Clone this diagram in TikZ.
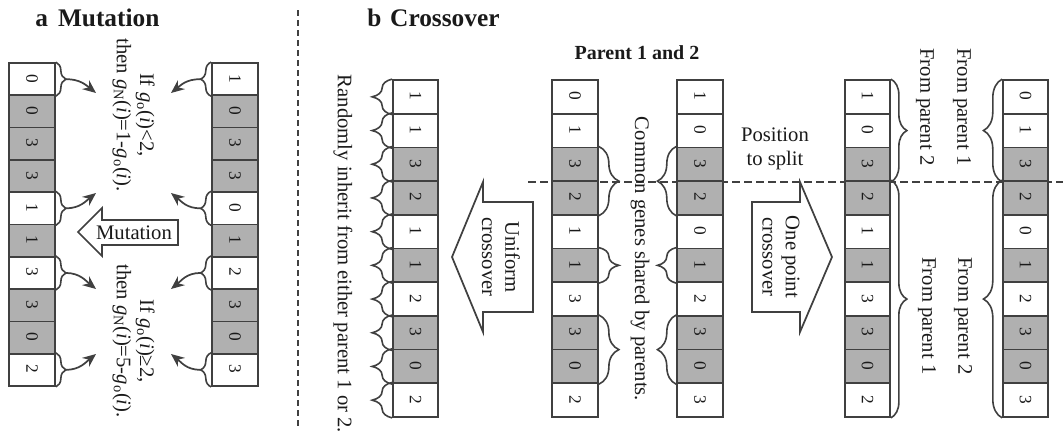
\documentclass[tikz,border=0pt]{standalone}
\usepackage{fontspec}
\usepackage{graphicx}
\setmainfont{Liberation Serif}
\usetikzlibrary{calc,arrows.meta,decorations.pathreplacing}

\definecolor{ink}{HTML}{1A1A1A}
\definecolor{edge}{HTML}{404040}
\definecolor{shade}{HTML}{B0B0B0}
\colorlet{c0}{white}
\colorlet{c1}{shade}

\tikzset{
  every node/.style={text=ink},
  gene/.style={draw=edge, line width=1.3pt, inner sep=0pt, font=\fontsize{13}{14}\selectfont},
  lbl/.style={font=\fontsize{15.5}{17.5}\selectfont, align=center, inner sep=0pt},
  vlbl/.style={lbl, rotate=-90},
  paneltitle/.style={font=\fontsize{19}{21}\selectfont\bfseries, anchor=base west, inner sep=0pt},
  curly/.style={draw=edge, line width=1.2pt, decorate, decoration={brace, amplitude=#1}},
  curly/.default=15pt,
  pointer/.style={draw=edge, line width=1.3pt, -{Stealth[length=10pt,width=8.5pt]}},
  blockarrow/.style={draw=edge, line width=1.3pt, fill=white, line join=miter},
  divider/.style={draw=edge, line width=1.5pt, dash pattern=on 4.5pt off 3pt},
  splitline/.style={draw=edge, line width=1pt, dash pattern=on 6pt off 3pt},
}

% one chromosome: name, centre x, top y, cell height, cell width, value/shade list
\newcommand\genecolumn[6]{%
  \foreach \val/\shd [count=\i] in {#6}{
    \node[gene, fill=c\shd, minimum width={#5*0.75pt}, minimum height={#4*0.75pt}]
      (#1-\i) at (#2, {#3+(\i-0.5)*#4}) {\rotatebox[origin=c]{-90}{\val}};
  }%
}

\begin{document}
\begin{tikzpicture}[x=0.75pt, y=-0.75pt]
\useasboundingbox (0,0) rectangle (1063,443);

% ---------------- a: mutation ----------------
\node[paneltitle] (titleA) at (35,26) {a\hspace{0.4em}Mutation};

\genecolumn{mL}{32}{63}{32.3}{46}{0/0,0/1,3/1,3/1,1/0,1/1,3/0,3/1,0/1,2/0}
\genecolumn{mR}{235}{63}{32.3}{46}{1/0,0/1,3/1,3/1,0/0,1/1,2/0,3/1,0/1,3/0}

\foreach \i in {1,5,7,10}{
  \draw[curly=7.5pt] (mL-\i.north east) -- (mL-\i.south east);
  \draw[curly=8pt] (mR-\i.south west) -- (mR-\i.north west);
  \coordinate (mL-\i t) at ($(mL-\i.east)+(10,0)$);
  \coordinate (mR-\i t) at ($(mR-\i.west)+(-10.7,0)$);
}

\coordinate (aL1) at (96,93);  \coordinate (aR1) at (171,93);
\coordinate (aL5) at (96,193); \coordinate (aR5) at (171,193);
\coordinate (aL7) at (96,289); \coordinate (aR7) at (171,289);
\coordinate (aL10) at (96,354); \coordinate (aR10) at (171,354);

\draw[pointer] (mL-1t) .. controls +(14,0) and +(-10,-8) .. (aL1);
\draw[pointer] (mL-5t) .. controls +(14,0) and +(-10,8) .. (aL5);
\draw[pointer] (mL-7t) .. controls +(14,0) and +(-10,-8) .. (aL7);
\draw[pointer] (mL-10t) .. controls +(14,0) and +(-10,8) .. (aL10);
\draw[pointer] (mR-1t) .. controls +(-14,0) and +(10,-8) .. (aR1);
\draw[pointer] (mR-5t) .. controls +(-14,0) and +(10,8) .. (aR5);
\draw[pointer] (mR-7t) .. controls +(-14,0) and +(10,-8) .. (aR7);
\draw[pointer] (mR-10t) .. controls +(-14,0) and +(10,8) .. (aR10);

\node[vlbl] (ruleLow) at (133.5,115)
  {If {\itshape g}\textsubscript{o}(\textit{i})<2,\\
   then {\itshape g}\textsubscript{N}(\textit{i})=1-{\itshape g}\textsubscript{o}(\textit{i}).};
\node[vlbl] (ruleHigh) at (133.5,341)
  {If {\itshape g}\textsubscript{o}(\textit{i})≥2,\\
   then {\itshape g}\textsubscript{N}(\textit{i})=5-{\itshape g}\textsubscript{o}(\textit{i}).};

\draw[blockarrow] (78,232) -- (102,208) -- (102,220) -- (178,220)
  -- (178,245) -- (102,245) -- (102,256) -- cycle;
\node[lbl] (mutlabel) at (134,233) {Mutation};

% panel separator
\coordinate (sepTop) at (298,10);
\coordinate (sepBot) at (298,430);
\draw[divider] (sepTop) -- (sepBot);

% ---------------- b: crossover ----------------
\node[paneltitle] (titleB) at (367,26) {b\hspace{0.35em}Crossover};
\node[font=\fontsize{15}{17}\selectfont\bfseries, anchor=base, inner sep=0pt] (ptitle) at (637,59) {Parent 1 and 2};

\coordinate (splitL) at (528,182);
\coordinate (splitR) at (1063,182);
\draw[splitline] (splitL) -- (splitR);

\genecolumn{cU}{415.5}{80}{33.7}{45}{1/0,1/0,3/1,2/1,1/0,1/1,2/0,3/1,0/1,2/0}
\genecolumn{cP1}{575}{80}{33.7}{46}{0/0,1/0,3/1,2/1,1/0,1/1,3/0,3/1,0/1,2/0}
\genecolumn{cP2}{700}{80}{33.7}{46}{1/0,0/0,3/1,2/1,0/0,1/1,2/0,3/1,0/1,3/0}
\genecolumn{cA}{867.5}{80}{33.7}{45}{1/0,0/0,3/1,2/1,1/0,1/1,3/0,3/1,0/1,2/0}
\genecolumn{cB}{1025.5}{80}{33.7}{45}{0/0,1/0,3/1,2/1,0/0,1/1,2/0,3/1,0/1,3/0}

% uniform child: every gene drawn from one of the parents
\foreach \i in {1,...,10}{
  \draw[curly=15pt] (cU-\i.south west) -- (cU-\i.north west);
}
\node[vlbl] (rnd) at (343,254) {Randomly inherit from either parent 1 or 2.};

% genes shared by both parents
\draw[curly=15pt] (cP1-3.north east) -- (cP1-4.south east);
\draw[curly=15pt] (cP1-6.north east) -- (cP1-6.south east);
\draw[curly=15pt] (cP1-8.north east) -- (cP1-9.south east);
\draw[curly=14pt] (cP2-4.south west) -- (cP2-3.north west);
\draw[curly=14pt] (cP2-6.south west) -- (cP2-6.north west);
\draw[curly=14pt] (cP2-9.south west) -- (cP2-8.north west);
\node[vlbl] (common) at (640,259) {Common genes shared by parents.};

\node[lbl, font=\fontsize{15.5}{18.5}\selectfont] (split) at (775,149) {Position\\to split};

% crossover block arrows
\draw[blockarrow] (452,257) -- (483,182) -- (483,202) -- (533,202)
  -- (533,312) -- (483,312) -- (483,332) -- cycle;
\node[vlbl] (uni) at (501,257) {Uniform\\crossover};

\draw[blockarrow] (832,257) -- (800,182) -- (800,202) -- (752,202)
  -- (752,312) -- (800,312) -- (800,332) -- cycle;
\node[vlbl] (onept) at (781,257) {One point\\crossover};

% one-point children
\draw[curly=12pt] (cA-1.north east) -- (cA-3.south east);
\draw[curly=12pt] (cA-4.north east) -- (cA-10.south east);
\draw[curly=14pt] (cB-3.south west) -- (cB-1.north west);
\draw[curly=14pt] (cB-10.south west) -- (cB-4.north west);

\node[vlbl] (fromA2) at (925,107) {From parent 2};
\node[vlbl] (fromB1) at (962,107) {From parent 1};
\node[vlbl] (fromA1) at (927,316) {From parent 1};
\node[vlbl] (fromB2) at (963,316) {From parent 2};

\end{tikzpicture}
\end{document}
